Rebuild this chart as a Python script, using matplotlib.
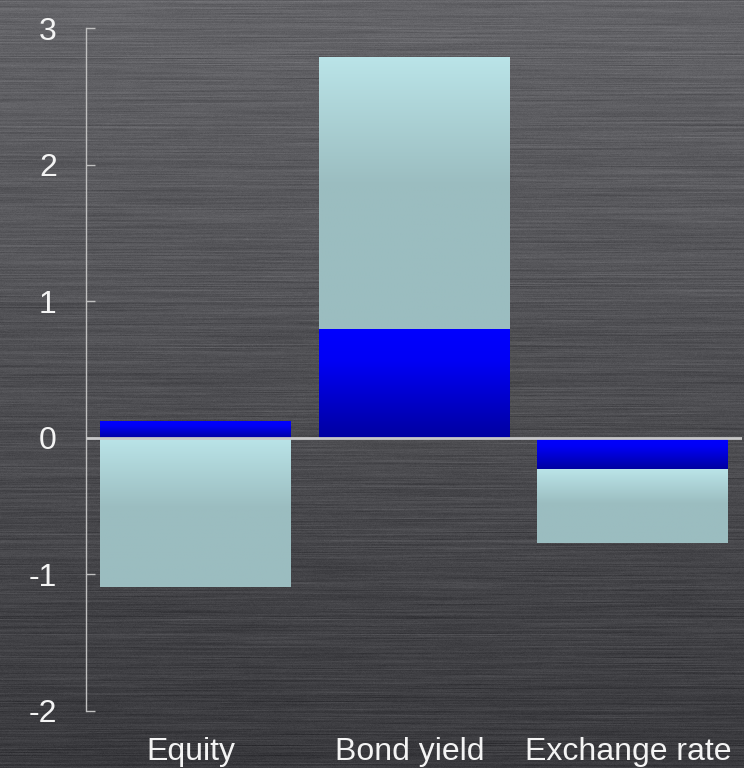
import numpy as np
import matplotlib
matplotlib.use('Agg')
from matplotlib import pyplot as plt
from matplotlib import transforms

categories = ['Equity', 'Bond yield', 'Exchange rate']
blue_part = [0.12, 0.80, -0.23]
teal_part = [-1.09, 1.99, -0.54]
y_ticks = [-2, -1, 0, 1, 2, 3]

plt.rcParams['font.family'] = ['Liberation Sans', 'DejaVu Sans']
plt.rcParams['axes.unicode_minus'] = False

W, H = 744, 768
fig = plt.figure(figsize=(W / 100, H / 100), dpi=100)

# brushed metal background (decoration only)
rng = np.random.default_rng(3)
noise = rng.normal(0, 1, (H, W + 200))
k = 80
cs = np.cumsum(noise, axis=1)
streak = (cs[:, k:] - cs[:, :-k])[:, :W] / np.sqrt(k)
rows = rng.normal(0, 1, (H, 1))
shade = np.linspace(100, 58, H)[:, None]
val = shade + 4 * streak + 3 * rows + rng.normal(0, 2, (H, W))
rgb = np.clip(np.dstack([val, val, val + 4]), 0, 255) / 255
bg = fig.add_axes([0, 0, 1, 1], zorder=-1)
bg.imshow(rgb, aspect='auto', interpolation='nearest')
bg.axis('off')

ax = fig.add_axes([86 / W, 57 / H, 656 / W, 683 / H])
ax.patch.set_visible(False)


def gradient(top, mid, bottom, split, n=200):
    t = np.linspace(0, 1, n)
    out = np.zeros((n, 1, 3))
    for c in range(3):
        out[:, 0, c] = np.interp(t, [0, split, 1], [top[c], mid[c], bottom[c]]) / 255
    return out


teal_grad = gradient((186, 228, 232), (155, 189, 192), (155, 189, 192), 0.47)
blue_grad = gradient((0, 0, 255), (0, 0, 245), (0, 0, 160), 0.3)

x = np.arange(len(categories))
teal_bottom = [b if np.sign(b) == np.sign(t) else 0 for b, t in zip(blue_part, teal_part)]
blue_bars = ax.bar(x, blue_part, width=0.872, color='none', zorder=2)
teal_bars = ax.bar(x, teal_part, bottom=teal_bottom, width=0.872, color='none', zorder=2)

for bars, grad in [(blue_bars, blue_grad), (teal_bars, teal_grad)]:
    for rect in bars:
        x0 = rect.get_x()
        x1 = x0 + rect.get_width()
        y0 = rect.get_y()
        y1 = y0 + rect.get_height()
        im = ax.imshow(grad, extent=[x0, x1, min(y0, y1), max(y0, y1)],
                       aspect='auto', origin='upper', zorder=2, interpolation='bilinear')
        im.set_clip_path(rect)

ax.axhline(0, color='#c8c8c8', lw=2, zorder=3)

ax.set_xlim(-0.5, len(categories) - 0.5)
ax.set_ylim(-2, 3)
ax.set_yticks(y_ticks)
ax.set_xticks(x)
ax.set_xticklabels(categories)

for side in ['top', 'right', 'bottom']:
    ax.spines[side].set_visible(False)
ax.spines['left'].set_color('#c0c0c0')
ax.spines['left'].set_linewidth(1)

ax.tick_params(axis='y', direction='in', length=6.5, color='#c0c0c0', width=1,
               labelsize=23, labelcolor='#f4f4f4', pad=21)
ax.tick_params(axis='x', length=0, labelsize=23, labelcolor='#f4f4f4', pad=19)

shift = transforms.ScaledTranslation(-4 / 100, 0, fig.dpi_scale_trans)
for lbl in ax.get_xticklabels():
    lbl.set_transform(lbl.get_transform() + shift)

fig.savefig('out.png', dpi=100)
